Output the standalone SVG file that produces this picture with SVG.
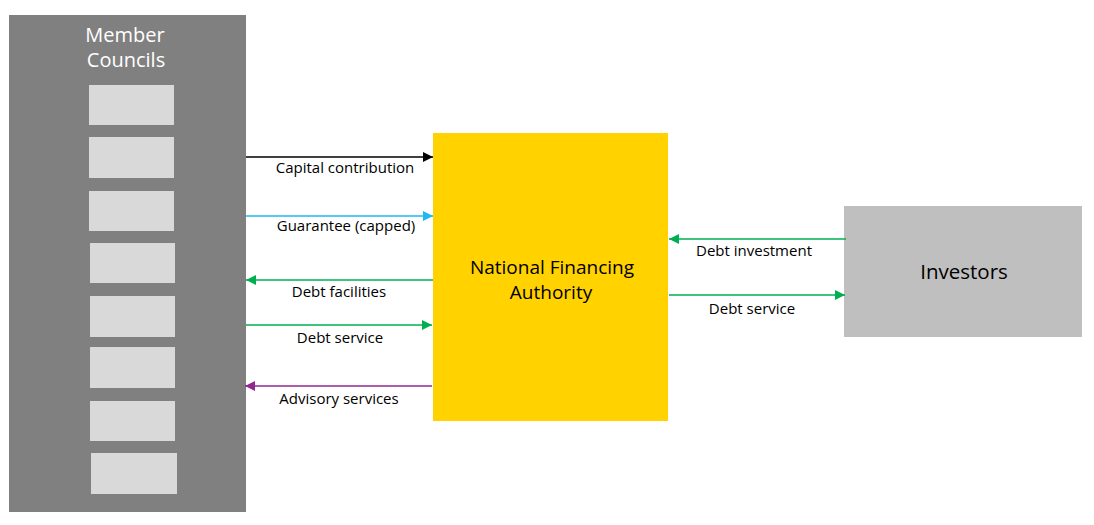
<svg xmlns="http://www.w3.org/2000/svg" width="1094" height="525" viewBox="0 0 1094 525">
<style>
.lbl{font-family:"Open Sans","Liberation Sans",sans-serif;font-size:15px;fill:#000;text-anchor:middle;font-weight:500}
.ttl{font-family:"Open Sans","Liberation Sans",sans-serif;text-anchor:middle;font-weight:500}
.sub{fill:#d9d9d9}
.ln{fill:none;stroke-width:1.6}
</style>
<defs>
<marker id="aK" viewBox="0 0 10 10" refX="10" refY="5" markerWidth="10" markerHeight="10" markerUnits="userSpaceOnUse" orient="auto"><path d="M0,0L10,5L0,10Z" fill="#000"/></marker>
<marker id="aB" viewBox="0 0 10 10" refX="10" refY="5" markerWidth="10" markerHeight="10" markerUnits="userSpaceOnUse" orient="auto"><path d="M0,0L10,5L0,10Z" fill="#1fb8f0"/></marker>
<marker id="aG" viewBox="0 0 10 10" refX="10" refY="5" markerWidth="10" markerHeight="10" markerUnits="userSpaceOnUse" orient="auto"><path d="M0,0L10,5L0,10Z" fill="#00b050"/></marker>
<marker id="aP" viewBox="0 0 10 10" refX="10" refY="5" markerWidth="10" markerHeight="10" markerUnits="userSpaceOnUse" orient="auto"><path d="M0,0L10,5L0,10Z" fill="#92278f"/></marker>
</defs>
<rect width="1094" height="525" fill="#fff"/>
<g id="member-councils">
<rect x="9" y="15" width="237" height="497" fill="#808080"/>
<text class="ttl" x="125" y="42" font-size="20" fill="#fff">Member</text>
<text class="ttl" x="126" y="67" font-size="20" fill="#fff">Councils</text>
<rect class="sub" x="89" y="85" width="85" height="40"/>
<rect class="sub" x="89" y="137" width="85" height="41"/>
<rect class="sub" x="89" y="191" width="85" height="40"/>
<rect class="sub" x="90" y="243" width="85" height="40"/>
<rect class="sub" x="90" y="296" width="85" height="41"/>
<rect class="sub" x="90" y="347" width="85" height="41"/>
<rect class="sub" x="90" y="401" width="85" height="40"/>
<rect class="sub" x="91" y="453" width="86" height="41"/>
</g>
<g id="nfa">
<rect x="433" y="133" width="235" height="288" fill="#ffd200"/>
<text class="ttl" x="552" y="274" font-size="19" fill="#000">National Financing</text>
<text class="ttl" x="551" y="299" font-size="19" fill="#000">Authority</text>
</g>
<g id="investors">
<rect x="844" y="206" width="238" height="131" fill="#bfbfbf"/>
<text class="ttl" x="964" y="279" font-size="20.5" fill="#000">Investors</text>
</g>
<g id="connectors">
<path class="ln" d="M246,157H433" stroke="#000" marker-end="url(#aK)"/>
<path class="ln" d="M246,216H433" stroke="#1fb8f0" marker-end="url(#aB)"/>
<path class="ln" d="M433,280H246" stroke="#00b050" marker-end="url(#aG)"/>
<path class="ln" d="M246,325H432" stroke="#00b050" marker-end="url(#aG)"/>
<path class="ln" d="M432,386H245" stroke="#92278f" marker-end="url(#aP)"/>
<path class="ln" d="M846,239H669" stroke="#00b050" marker-end="url(#aG)"/>
<path class="ln" d="M669,295H845" stroke="#00b050" marker-end="url(#aG)"/>
<text class="lbl" x="345" y="173">Capital contribution</text>
<text class="lbl" x="346" y="231">Guarantee (capped)</text>
<text class="lbl" x="339" y="297">Debt facilities</text>
<text class="lbl" x="340" y="343">Debt service</text>
<text class="lbl" x="339" y="404">Advisory services</text>
<text class="lbl" x="754" y="256">Debt investment</text>
<text class="lbl" x="752" y="314">Debt service</text>
</g>
</svg>
